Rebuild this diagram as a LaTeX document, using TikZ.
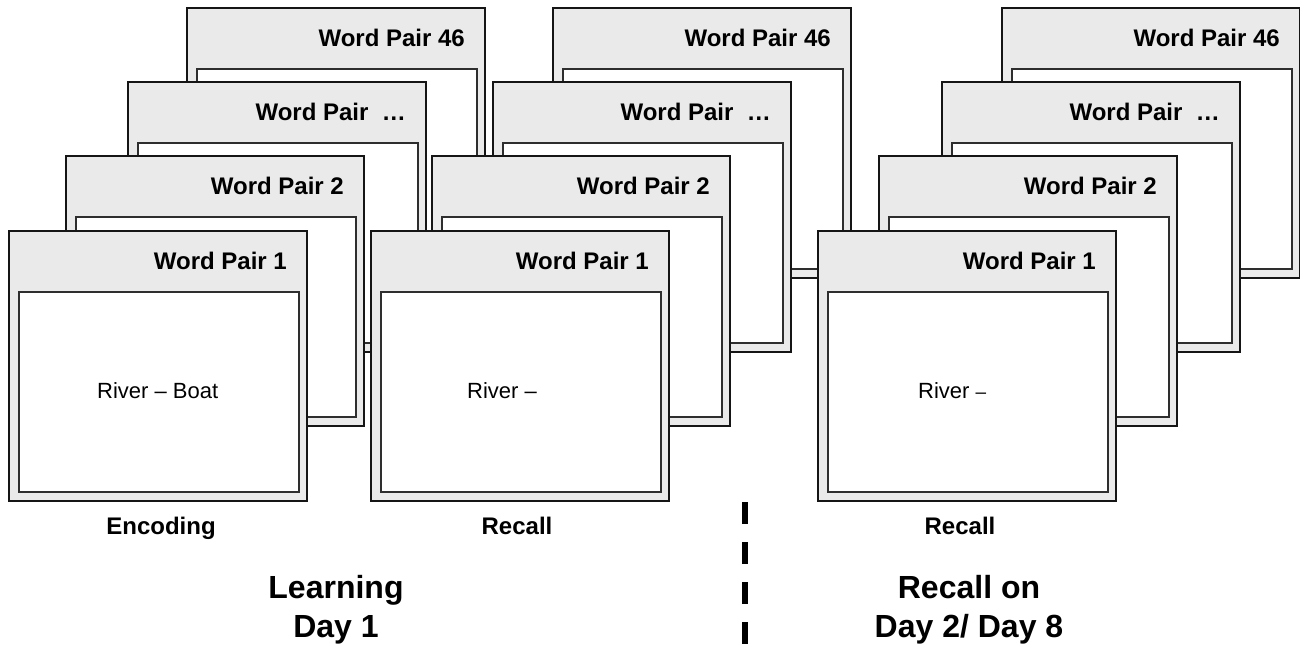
\documentclass[tikz,border=0pt]{standalone}
\usepackage{fontspec}
\setmainfont{Liberation Sans}
\usetikzlibrary{calc}
\definecolor{cardgray}{HTML}{EAEAEA}
\definecolor{edge}{HTML}{151515}
\definecolor{inedge}{HTML}{2E2E2E}
\tikzset{
  card/.style={draw=edge, line width=2pt, fill=cardgray, rectangle, minimum width=298pt, minimum height=270pt, inner sep=0pt, outer sep=0pt, anchor=north west},
  screen/.style={draw=inedge, line width=1.3pt, fill=white, rectangle, minimum width=280pt, minimum height=200pt, inner sep=0pt, outer sep=0pt, anchor=north west},
  cardtitle/.style={font=\fontsize{24}{28}\selectfont\bfseries, inner sep=0pt, anchor=base east},
  word/.style={font=\fontsize{22}{26}\selectfont, inner sep=0pt, anchor=base west},
  phase/.style={font=\fontsize{24}{28}\selectfont\bfseries, inner sep=0pt, anchor=base},
  session/.style={font=\fontsize{32}{40}\selectfont\bfseries, inner sep=0pt, anchor=base, align=center},
}
\newcommand{\wpcard}[4]{%
  \node[card] (#1) at (#2,#3) {};
  \node[screen] (#1s) at ($(#1.north west)+(10,61)$) {};
  \node[cardtitle] (#1t) at ($(#1.north east)+(-20,38.5)$) {#4};
}
\begin{document}
\begin{tikzpicture}[x=1pt,y=-1pt]
\useasboundingbox (0,0) rectangle (1300,645);
% stack 1
\wpcard{aD}{187}{8}{Word Pair 46}
\wpcard{aC}{128}{82}{Word Pair\ \ …}
\wpcard{aB}{66}{156}{Word Pair 2}
\wpcard{aA}{9}{231}{Word Pair 1}
\node[word] (aw) at ($(aA.north west)+(88,167)$) {River – Boat};
% stack 2
\wpcard{bD}{553}{8}{Word Pair 46}
\wpcard{bC}{493}{82}{Word Pair\ \ …}
\wpcard{bB}{432}{156}{Word Pair 2}
\wpcard{bA}{371}{231}{Word Pair 1}
\node[word] (bw) at ($(bA.north west)+(96,167)$) {River –};
% stack 3
\wpcard{cD}{1002}{8}{Word Pair 46}
\wpcard{cC}{942}{82}{Word Pair\ \ …}
\wpcard{cB}{879}{156}{Word Pair 2}
\wpcard{cA}{818}{231}{Word Pair 1}
\node[word] (cw) at ($(cA.north west)+(100,167)$) {River {\fontsize{19}{22}\selectfont –}};
% phase labels
\node[phase] (enc) at (161,534) {Encoding};
\node[phase] (rec1) at (517,534) {Recall};
\node[phase] (rec2) at (960,534) {Recall};
% session labels
\node[session] (learn) at (336,637) {Learning\\[-1pt]Day 1};
\node[session] (recall) at (969,637) {Recall on\\[-1pt]Day 2/ Day 8};
% separator
\coordinate (sepTop) at (745,502);
\coordinate (sepBot) at (745,645);
\draw[line width=5.5pt, dash pattern=on 22pt off 18pt] (sepTop) -- (sepBot);
\end{tikzpicture}
\end{document}
